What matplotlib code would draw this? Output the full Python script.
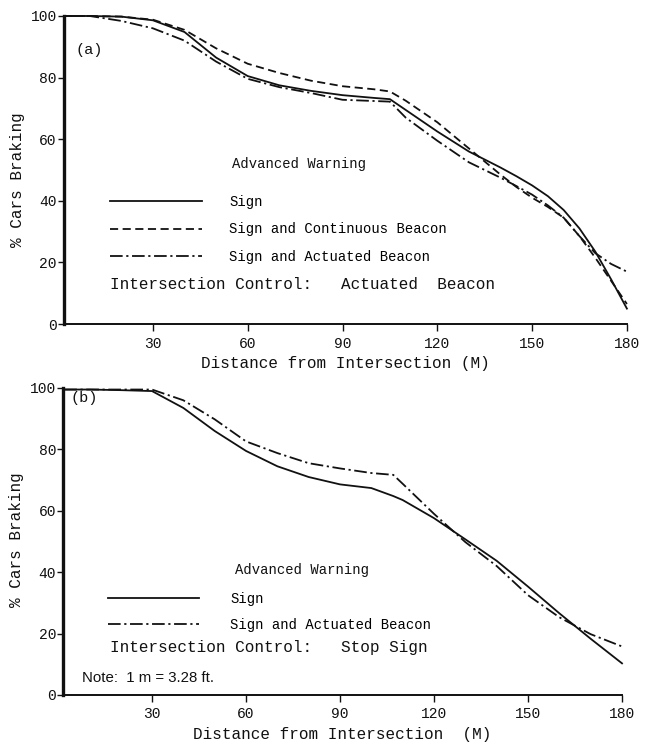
import matplotlib
matplotlib.use("Agg")
import matplotlib.pyplot as plt

# panel (a): intersection control = actuated beacon
dist_a = [2, 10, 20, 30, 40, 50, 60, 70, 80, 90, 100, 105, 110, 120, 130, 140, 145, 150, 155, 160, 165, 170, 175, 180]
sign_a = [100, 100, 99.8, 98.6, 94.8, 86.5, 80.5, 77.5, 75.7, 74.3, 73.4, 73.0, 69.5, 62.5, 56.0, 50.8, 48.0, 45.0, 41.5, 37.0, 31.0, 23.5, 14.5, 5.0]
cont_a = [100, 100, 99.8, 98.8, 95.5, 89.5, 84.5, 81.5, 79.0, 77.2, 76.2, 75.5, 72.5, 65.5, 57.0, 48.5, 44.5, 41.0, 38.0, 34.5, 28.5, 21.5, 14.0, 6.5]
actu_a = [100, 100, 98.4, 96.0, 92.0, 85.2, 79.6, 76.9, 75.0, 72.8, 72.4, 72.2, 67.0, 59.5, 52.5, 47.5, 44.8, 42.0, 38.5, 34.5, 28.5, 23.0, 19.5, 17.0]

# panel (b): intersection control = stop sign
dist_b = [2, 10, 20, 30, 40, 50, 60, 70, 80, 90, 100, 107, 110, 120, 130, 140, 150, 160, 170, 180]
sign_b = [99.5, 99.5, 99.3, 99.0, 93.5, 86.0, 79.5, 74.5, 71.0, 68.6, 67.4, 64.8, 63.5, 57.6, 50.7, 43.7, 35.3, 26.6, 18.3, 10.3]
actu_b = [99.5, 99.5, 99.5, 99.5, 96.0, 89.8, 82.6, 78.8, 75.5, 73.8, 72.3, 71.7, 68.8, 59.0, 49.8, 42.0, 32.5, 25.3, 19.8, 15.8]

xticks = [30, 60, 90, 120, 150, 180]
yticks = [0, 20, 40, 60, 80, 100]

MONO = "Liberation Mono"
INK = "#111111"

SOLID = "-"
DASHED = (0, (4.5, 2.5))
DASHDOT = (0, (7, 2, 1.2, 2))


def setup_axes(ax, xlabel, xmin, ylab_y):
    ax.set_xlim(xmin, 180)
    ax.set_ylim(0, 100)
    ax.spines["top"].set_visible(False)
    ax.spines["right"].set_visible(False)
    ax.spines["left"].set_linewidth(2.4)
    ax.spines["bottom"].set_linewidth(1.4)
    ax.spines["left"].set_color(INK)
    ax.spines["bottom"].set_color(INK)
    ax.set_xticks(xticks)
    ax.set_yticks(yticks)
    ax.set_xticklabels([str(t) for t in xticks], family=MONO, fontsize=10.5)
    ax.set_yticklabels([str(t) for t in yticks], family=MONO, fontsize=10.5)
    ax.tick_params(axis="y", direction="out", length=4, width=1, pad=1, colors=INK)
    ax.tick_params(axis="x", direction="out", length=5, width=1, pad=4, colors=INK)
    ax.set_xlabel(xlabel, family=MONO, fontsize=11.5, labelpad=4, color=INK)
    ax.set_ylabel("% Cars Braking", family=MONO, fontsize=11.5, color=INK)
    ax.yaxis.set_label_coords(-0.069, ylab_y)


fig = plt.figure(figsize=(6.51, 7.44), dpi=100)

# ---- (a)
ax = fig.add_axes([0.098, 0.5645, 0.865, 0.414])
ax.plot(dist_a, sign_a, color=INK, lw=1.3, ls=SOLID, label="Sign", clip_on=False)
ax.plot(dist_a, cont_a, color=INK, lw=1.3, ls=DASHED, label="Sign and Continuous Beacon", clip_on=False)
ax.plot(dist_a, actu_a, color=INK, lw=1.3, ls=DASHDOT, label="Sign and Actuated Beacon", clip_on=False)
setup_axes(ax, "Distance from Intersection (M)", 1.8, 0.47)
leg = ax.legend(loc="upper left", bbox_to_anchor=(0.082, 0.418), frameon=False,
                prop={"family": MONO, "size": 10}, handlelength=6.6,
                handletextpad=2.0, labelspacing=0.95, borderpad=0, borderaxespad=0)
ax.text(0.02, 0.89, "(a)", transform=ax.transAxes, family=MONO, fontsize=11, va="center", color=INK)
ax.text(0.298, 0.519, "Advanced Warning", transform=ax.transAxes, family=MONO, fontsize=10, va="center", color=INK)
ax.text(0.082, 0.127, "Intersection Control:   Actuated  Beacon", transform=ax.transAxes,
        family=MONO, fontsize=11.5, va="center", color=INK)

# ---- (b)
ax = fig.add_axes([0.0968, 0.0659, 0.8587, 0.4126])
ax.plot(dist_b, sign_b, color=INK, lw=1.3, ls=SOLID, label="Sign", clip_on=False)
ax.plot(dist_b, actu_b, color=INK, lw=1.3, ls=DASHDOT, label="Sign and Actuated Beacon", clip_on=False)
setup_axes(ax, "Distance from Intersection  (M)", 1.6, 0.505)
leg = ax.legend(loc="upper left", bbox_to_anchor=(0.08, 0.335), frameon=False,
                prop={"family": MONO, "size": 10}, handlelength=6.6,
                handletextpad=2.2, labelspacing=0.85, borderpad=0, borderaxespad=0)
ax.text(0.0125, 0.967, "(b)", transform=ax.transAxes, family=MONO, fontsize=11, va="center", color=INK)
ax.text(0.308, 0.407, "Advanced Warning", transform=ax.transAxes, family=MONO, fontsize=10, va="center", color=INK)
ax.text(0.084, 0.156, "Intersection Control:   Stop Sign", transform=ax.transAxes,
        family=MONO, fontsize=11.5, va="center", color=INK)
ax.text(0.034, 0.055, "Note:  1 m = 3.28 ft.", transform=ax.transAxes,
        family="Liberation Sans", fontsize=10.8, va="center", color=INK)

fig.savefig("out.png", dpi=100)
